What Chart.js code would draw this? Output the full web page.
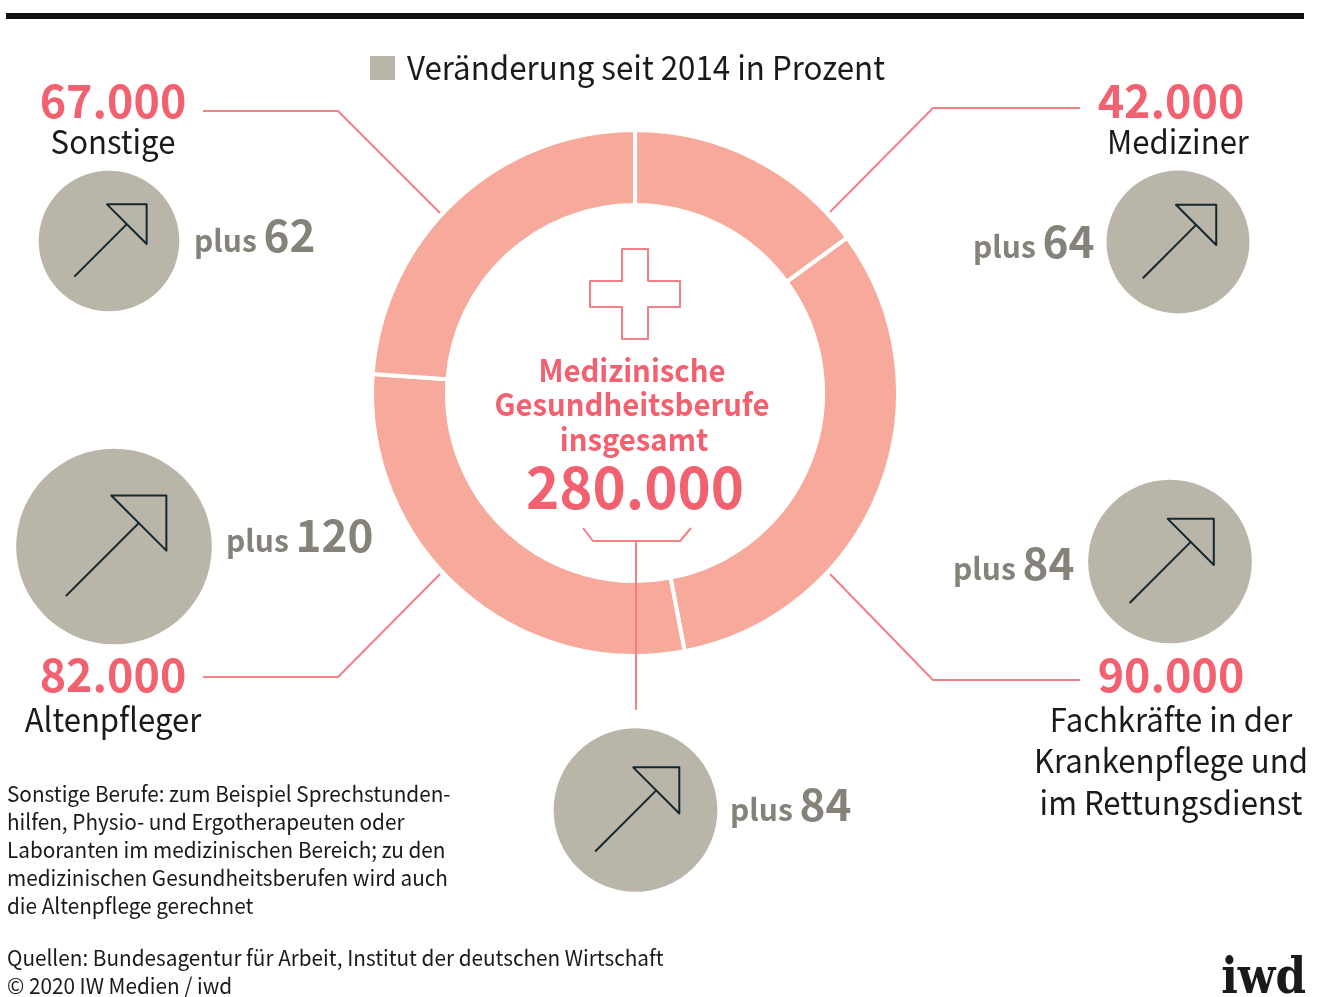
<!DOCTYPE html>
<html lang="de">
<head>
<meta charset="utf-8">
<title>Medizinische Gesundheitsberufe</title>
<script src="https://cdn.jsdelivr.net/npm/chart.js@4"></script>
<style>
html,body{margin:0;padding:0;background:#fff;width:1322px;height:997px;overflow:hidden}
canvas,svg{position:absolute;left:0;top:0}
text{font-family:"Noto Sans CJK SC","Noto Sans",sans-serif}
</style>
</head>
<body>
<canvas id="ring" width="1322" height="997"></canvas>
<canvas id="circles" width="1322" height="997"></canvas>
<svg id="labels" width="1322" height="997" xmlns="http://www.w3.org/2000/svg"></svg>
<script>
// Data
const categories = ["Mediziner", "Fachkräfte in der Krankenpflege und im Rettungsdienst", "Altenpfleger", "Sonstige"];
const counts = [42000, 90000, 82000, 67000];
const changes = [64, 84, 120, 62];
const totalChange = 84;
const totalCount = "280.000";
const countLabels = ["42.000", "90.000", "82.000", "67.000"];

// Style
const PINK = "#f7a99c", RED = "#f2616f", LINE = "#f47f88", GREY = "#b9b5a8", GREYTXT = "#85827a", INK = "#1a1a1a", ARROW = "#14272f";

// Layout of the circles: order = categories + overall
const circleX = [1178, 1170, 114, 109, 635.5];
const circleY = [242, 561.5, 546.5, 241, 810];
const circleValues = [...changes, totalChange];
const AREA_K = 8.93;

const connectors = [
  [[1080,108],[933,108],[830,212]],
  [[1080,680],[933,680],[830,574]],
  [[203,677],[338,677],[440,574]],
  [[203,111],[338,111],[440,213]],
  [[583,528],[593,541],[680,541],[691,528]],
  [[636,541],[636,710]]
];
const cross = [[622,249],[648,249],[648,281],[680,281],[680,307],[648,307],[648,339],[622,339],[622,307],[590,307],[590,281],[622,281]];

new Chart(document.getElementById("ring"), {
  type: "doughnut",
  data: { labels: categories, datasets: [{ data: counts, backgroundColor: PINK, borderColor: "#fff", borderWidth: 4, hoverOffset: 0 }] },
  options: {
    responsive: false, animation: false, events: [], cutout: "71.5%", rotation: 0,
    layout: { padding: { left: 370, right: 422, top: 128, bottom: 339 } },
    plugins: { legend: { display: false }, tooltip: { enabled: false } }
  }
});

const annotate = {
  id: "annotate",
  afterDatasetsDraw(chart) {
    const c = chart.ctx;
    const path = pts => { c.beginPath(); pts.forEach((p,i)=> i ? c.lineTo(p[0],p[1]) : c.moveTo(p[0],p[1])); };
    c.save();
    c.lineJoin = "round"; c.lineCap = "butt";
    c.fillStyle = "#111"; c.fillRect(6, 13, 1298, 6);
    c.fillStyle = GREY; c.fillRect(370, 56, 25, 24);
    c.strokeStyle = LINE; c.lineWidth = 2;
    connectors.forEach(pts => { path(pts); c.stroke(); });
    path(cross); c.closePath(); c.stroke();
    const pts = chart.getDatasetMeta(0).data;
    c.strokeStyle = ARROW; c.lineWidth = 2;
    pts.forEach((el, i) => {
      const k = chart.data.datasets[0].data[i].r / 71;
      const P = (dx,dy) => [el.x + dx*k, el.y + dy*k];
      path([P(-2,-37),P(38,-37),P(38,3)]); c.closePath(); c.stroke();
      path([P(-35,36),P(18,-17)]); c.stroke();
    });
    c.restore();
  }
};

new Chart(document.getElementById("circles"), {
  type: "bubble",
  data: { datasets: [{
    data: circleValues.map((v,i) => ({ x: circleX[i], y: circleY[i], r: AREA_K * Math.sqrt(v) })),
    backgroundColor: GREY, borderWidth: 0
  }]},
  options: {
    responsive: false, animation: false, events: [], clip: false,
    layout: { padding: 0, autoPadding: false },
    scales: {
      x: { type: "linear", display: false, min: 0, max: 1322 },
      y: { type: "linear", display: false, min: 0, max: 997, reverse: true }
    },
    plugins: { legend: { display: false }, tooltip: { enabled: false } }
  },
  plugins: [annotate]
});

// Text
const svg = document.getElementById("labels");
const NS = "http://www.w3.org/2000/svg";
function T(str, x, y, size, color, opt) {
  opt = opt || {};
  const t = document.createElementNS(NS, "text");
  t.setAttribute("x", x); t.setAttribute("y", y);
  t.setAttribute("font-size", size); t.setAttribute("fill", color);
  t.setAttribute("text-anchor", opt.anchor || "start");
  if (opt.bold) t.setAttribute("font-weight", "700");
  if (opt.font) t.style.fontFamily = opt.font;
  t.textContent = str;
  svg.appendChild(t);
  if (opt.squeeze) {
    t.setAttribute("textLength", t.getComputedTextLength() * opt.squeeze);
    t.setAttribute("lengthAdjust", "spacingAndGlyphs");
  }
  return t;
}
const big = { anchor: "middle", bold: true, squeeze: 0.973 };
const mid = { anchor: "middle", squeeze: 0.942 };
const midB = { anchor: "middle", bold: true, squeeze: 0.945 };
const note = { squeeze: 0.943 };

T("Veränderung seit 2014 in Prozent", 407, 80, 33, INK, { squeeze: 0.948 });

T(countLabels[3], 113, 118, 46, RED, big);
T("Sonstige", 113, 154, 33, INK, mid);
T(countLabels[0], 1171, 118, 46, RED, big);
T("Mediziner", 1178, 154, 33, INK, mid);
T(countLabels[2], 113, 692, 46, RED, big);
T("Altenpfleger", 113, 732, 33, INK, mid);
T(countLabels[1], 1171, 692, 46, RED, big);
T("Fachkräfte in der", 1171, 732, 33, INK, mid);
T("Krankenpflege und", 1171, 773, 33, INK, mid);
T("im Rettungsdienst", 1171, 815, 33, INK, mid);

function plus(x, y, n) {
  const t = T("plus ", x, y, 30, GREYTXT, { bold: true });
  t.style.whiteSpace = "pre";
  const s = document.createElementNS(NS, "tspan");
  s.setAttribute("font-size", 44); s.textContent = n;
  t.appendChild(s);
}
plus(194, 252, changes[3]);
plus(973, 258, changes[0]);
plus(226, 552, changes[2]);
plus(953, 580, changes[1]);
plus(730, 821, totalChange);

T("Medizinische", 632, 382, 31, RED, midB);
T("Gesundheitsberufe", 632, 416, 31, RED, midB);
T("insgesamt", 634, 451, 31, RED, midB);
T(totalCount, 635, 509, 58, RED, big);

["Sonstige Berufe: zum Beispiel Sprechstunden-",
 "hilfen, Physio- und Ergotherapeuten oder",
 "Laboranten im medizinischen Bereich; zu den",
 "medizinischen Gesundheitsberufen wird auch",
 "die Altenpflege gerechnet"].forEach((s,i)=>T(s, 7, 802+28*i, 22, INK, note));
T("Quellen: Bundesagentur für Arbeit, Institut der deutschen Wirtschaft", 7, 966, 22, INK, note);
T("© 2020 IW Medien / iwd", 7, 994, 22, INK, note);
T("iwd", 1306, 993, 50, "#1a1a1a", { anchor: "end", bold: true, font: '"DejaVu Serif",serif', squeeze: 0.875 });
</script>
</body>
</html>
